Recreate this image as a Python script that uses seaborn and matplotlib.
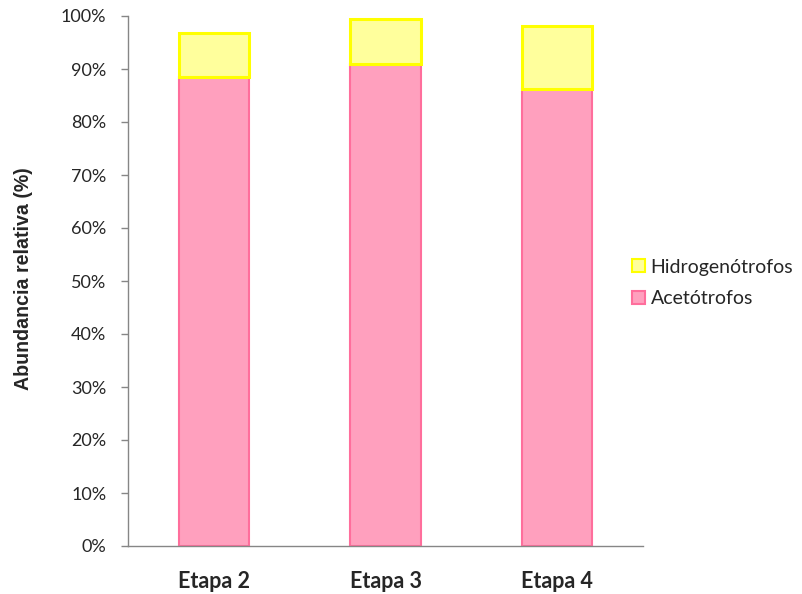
import matplotlib
matplotlib.use("Agg")
import matplotlib.pyplot as plt
import seaborn as sns
import pandas as pd
from matplotlib.ticker import PercentFormatter, FixedLocator
from matplotlib.patches import Patch

etapas = ["Etapa 2", "Etapa 3", "Etapa 4"]
acetotrofos = [88.5, 91.0, 86.2]
hidrogenotrofos = [8.2, 8.4, 11.9]

df = pd.DataFrame({"etapa": etapas, "acet": acetotrofos, "hidro": hidrogenotrofos})

sns.set_style("white")
plt.rcParams["font.family"] = ["Lato", "DejaVu Sans"]

pink_fill, pink_edge = "#FFA0BE", "#FF6E9C"
yel_fill, yel_edge = "#FFFF9C", "#FFFF00"
axis_grey = "#868686"

fig = plt.figure(figsize=(8.02, 5.94), dpi=100)
ax = fig.add_axes([128 / 802, 1 - 546 / 594, 515 / 802, 530 / 594])

sns.barplot(data=df, x="etapa", y="acet", color=pink_fill, edgecolor=pink_edge,
            linewidth=1.5, width=0.41, saturation=1, ax=ax)
sns.barplot(data=df, x="etapa", y="hidro", bottom=df["acet"], color=yel_fill,
            edgecolor=yel_edge, linewidth=2.2, width=0.41, saturation=1, ax=ax)

ax.set_xlim(-0.5, 2.5)
ax.set_ylim(0, 100)
ax.yaxis.set_major_locator(FixedLocator(range(0, 101, 10)))
ax.yaxis.set_major_formatter(PercentFormatter(decimals=0))
ax.set_xticks([0, 1, 2])
ax.set_xticklabels(etapas, fontweight="bold", fontsize=15.5)
ax.set_xticks([-0.5, 0.5, 1.5, 2.5], minor=True)
ax.tick_params(axis="x", which="major", length=0, pad=18)
ax.tick_params(axis="x", which="minor", length=5, color=axis_grey, width=1, direction="out")
ax.tick_params(axis="y", length=5, color=axis_grey, width=1, direction="out",
               labelsize=13, left=True, pad=10.5)
ax.set_xlabel("")
ax.set_ylabel("Abundancia relativa (%)", fontweight="bold", fontsize=14.1,
              family=["Liberation Sans", "DejaVu Sans"])
ax.yaxis.set_label_coords(-0.185, 0.504)

for side in ["top", "right"]:
    ax.spines[side].set_visible(False)
for side in ["left", "bottom"]:
    ax.spines[side].set_color(axis_grey)
    ax.spines[side].set_linewidth(1)

handles = [
    Patch(facecolor=yel_fill, edgecolor=yel_edge, linewidth=1.5, label="Hidrogenótrofos"),
    Patch(facecolor=pink_fill, edgecolor=pink_edge, linewidth=1.5, label="Acetótrofos"),
]
fig.legend(handles=handles, loc="center left", bbox_to_anchor=(632 / 802, 1 - 283 / 594),
           frameon=False, fontsize=14, handlelength=0.65, handleheight=0.65,
           handletextpad=0.3, labelspacing=0.75, borderaxespad=0, borderpad=0)

fig.savefig("out.png", dpi=100)
